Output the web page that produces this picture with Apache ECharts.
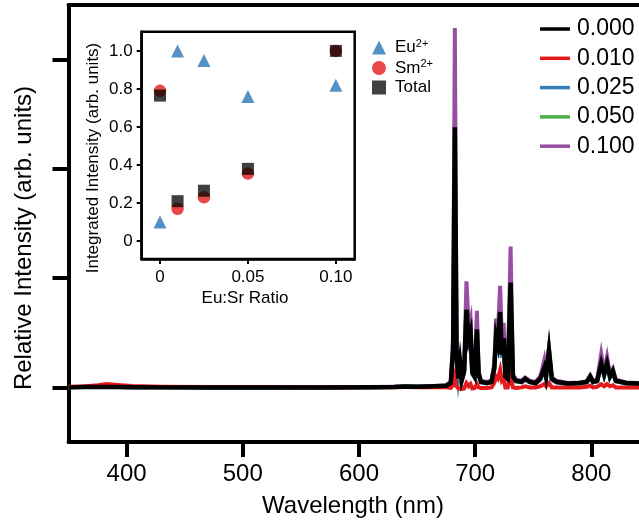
<!DOCTYPE html>
<html>
<head>
<meta charset="utf-8">
<script src="https://cdn.jsdelivr.net/npm/echarts@6/dist/echarts.min.js"></script>
<style>
  html, body { margin: 0; padding: 0; background: #fff; }
  #chart { width: 639px; height: 521px; }
</style>
</head>
<body>
<div id="chart"></div>
<script>
// Emission spectra (relative intensity) for each Eu:Sr ratio, sampled on a shared wavelength grid (nm)
const wavelength = [
  350, 365, 375, 383, 392, 405, 430, 470, 520, 570,
  610, 630, 640, 650, 665, 675, 679, 681, 682.5, 684,
  685.5, 687, 688.5, 690.5, 692.5, 694.5, 696, 697.5, 699.5, 701.5,
  703, 705, 710, 714, 716.5, 718, 719.5, 721.5, 723, 724.5,
  726, 728, 730.5, 732.5, 735, 740, 743, 747, 752, 756,
  757.5, 759.5, 761, 763.5, 766, 770, 780, 790, 796, 799,
  801.5, 805, 808.5, 811, 813.5, 816, 818.5, 821, 830, 840,
  850
];

const ratio000 = [
  0.000, 0.003, 0.004, 0.004, 0.003, 0.002, 0.000, 0.000, 0.000, 0.000,
  0.002, 0.004, 0.008, 0.006, 0.010, 0.015, 0.04, 0.35, 2.38, 0.30,
  0.08, 0.23, 0.07, 0.15, 0.71, 0.45, 0.51, 0.14, 0.10, 0.53,
  0.12, 0.05, 0.04, 0.05, 0.18, 0.47, 0.40, 0.69, 0.30, 0.45,
  0.10, 0.08, 0.96, 0.10, 0.06, 0.05, 0.08, 0.05, 0.04, 0.08,
  0.12, 0.18, 0.10, 0.34, 0.08, 0.05, 0.035, 0.04, 0.05, 0.10,
  0.05, 0.06, 0.22, 0.12, 0.22, 0.10, 0.15, 0.06, 0.04, 0.035,
  0.03
];

const ratio010 = [
  0.005, 0.010, 0.020, 0.030, 0.022, 0.012, 0.006, 0.004, 0.003, 0.002,
  0.002, 0.002, 0.003, 0.002, 0.002, 0.000, -0.005, 0.02, 0.10, 0.01,
  -0.01, 0.00, -0.015, -0.01, 0.04, 0.01, 0.03, -0.01, -0.005, 0.03,
  0.00, -0.005, -0.005, 0.00, 0.04, 0.10, 0.08, 0.16, 0.06, 0.08,
  0.00, 0.00, 0.10, 0.00, -0.005, 0.00, 0.01, 0.00, 0.00, 0.01,
  0.02, 0.03, 0.01, 0.04, 0.00, 0.00, 0.00, 0.00, 0.005, 0.015,
  0.00, 0.005, 0.03, 0.01, 0.03, 0.01, 0.02, 0.00, 0.00, 0.00,
  0.00
];

const ratio025 = [
  0.000, 0.003, 0.004, 0.004, 0.003, 0.002, 0.000, 0.000, 0.000, 0.000,
  0.002, 0.004, 0.007, 0.005, 0.009, 0.013, 0.035, 0.31, 2.10, 0.27,
  0.07, 0.20, 0.06, 0.13, 0.63, 0.40, 0.45, 0.12, 0.09, 0.47,
  0.11, 0.045, 0.035, 0.045, 0.16, 0.42, 0.36, 0.62, 0.27, 0.40,
  0.09, 0.07, 0.86, 0.09, 0.055, 0.045, 0.07, 0.045, 0.035, 0.07,
  0.11, 0.16, 0.09, 0.30, 0.07, 0.045, 0.03, 0.035, 0.045, 0.09,
  0.045, 0.055, 0.20, 0.11, 0.20, 0.09, 0.13, 0.055, 0.035, 0.03,
  0.027
];

const ratio050 = [
  0.000, 0.003, 0.004, 0.004, 0.003, 0.002, 0.000, 0.000, 0.000, 0.000,
  0.002, 0.004, 0.008, 0.006, 0.010, 0.014, 0.038, 0.33, 2.25, 0.28,
  0.075, 0.22, 0.065, 0.14, 0.67, 0.43, 0.48, 0.13, 0.095, 0.50,
  0.11, 0.048, 0.038, 0.048, 0.17, 0.45, 0.38, 0.66, 0.28, 0.43,
  0.095, 0.075, 0.91, 0.095, 0.057, 0.048, 0.075, 0.048, 0.038, 0.075,
  0.11, 0.17, 0.095, 0.32, 0.075, 0.048, 0.033, 0.038, 0.048, 0.095,
  0.048, 0.057, 0.21, 0.11, 0.21, 0.095, 0.14, 0.057, 0.038, 0.033,
  0.028
];

const ratio100 = [
  0.000, 0.008, 0.010, 0.008, 0.006, 0.004, 0.002, 0.001, 0.001, 0.001,
  0.003, 0.005, 0.008, 0.008, 0.012, 0.02, 0.05, 0.45, 3.29, 0.40,
  0.10, 0.26, 0.09, 0.18, 0.97, 0.55, 0.62, 0.18, 0.12, 0.70,
  0.15, 0.06, 0.05, 0.06, 0.22, 0.63, 0.50, 0.93, 0.40, 0.59,
  0.12, 0.10, 1.29, 0.12, 0.07, 0.06, 0.09, 0.06, 0.05, 0.10,
  0.16, 0.25, 0.13, 0.36, 0.09, 0.06, 0.04, 0.045, 0.055, 0.11,
  0.06, 0.07, 0.31, 0.15, 0.28, 0.12, 0.17, 0.07, 0.045, 0.04,
  0.035
];

const spectrumLabels = ['0.000', '0.010', '0.025', '0.050', '0.100'];
const spectrumColors = ['#000000', '#e41a1c', '#377eb8', '#4daf4a', '#984ea3'];
const spectrumValues = [ratio000, ratio010, ratio025, ratio050, ratio100];
const wavelengthTicks = [400, 500, 600, 700, 800];
const intensityTicks = [0, 1, 2, 3];

// Integrated intensities versus Eu:Sr ratio (inset)
const euSrRatio = [0, 0.01, 0.025, 0.05, 0.10];
const euIntegrated = [0.10, 1.00, 0.95, 0.76, 0.82];
const smIntegrated = [0.79, 0.17, 0.23, 0.355, 1.00];
const totalIntegrated = [0.765, 0.21, 0.265, 0.38, 1.00];
const insetXTicks = [0, 0.05, 0.10];
const insetXTickLabels = ['0', '0.05', '0.10'];
const insetYTicks = [0, 0.2, 0.4, 0.6, 0.8, 1.0];
const insetYTickLabels = ['0', '0.2', '0.4', '0.6', '0.8', '1.0'];

const FONT = "'Liberation Sans', Arial, Helvetica, sans-serif";
const chart = echarts.init(document.getElementById('chart'), null, { renderer: 'canvas' });

const pair = (xs, ys) => xs.map((x, i) => [x, ys[i]]);

// draw order: 0.100 at the back, 0.000 on top
const drawOrder = [4, 3, 2, 1, 0];
const spectrumSeries = drawOrder.map(k => ({
  name: spectrumLabels[k],
  type: 'line',
  xAxisIndex: 0,
  yAxisIndex: 0,
  data: pair(wavelength, spectrumValues[k]),
  showSymbol: false,
  symbol: 'none',
  lineStyle: { color: spectrumColors[k], width: k === 0 ? 4.5 : 4, join: 'miter' },
  itemStyle: { color: spectrumColors[k] },
  z: 2 + (4 - k),
  animation: false
}));

const insetRich = {
  b: { fontSize: 17, fontFamily: FONT, color: '#000', lineHeight: 19 },
  s: { fontSize: 11, fontFamily: FONT, color: '#000', verticalAlign: 'top', lineHeight: 19 }
};

const option = {
  backgroundColor: '#fff',
  animation: false,
  textStyle: { fontFamily: FONT },
  grid: [
    {
      // spectrum panel; its right edge runs up to the page edge with no right spine
      left: 68.5, top: 5, width: 570.5, height: 437, show: false
    },
    {
      left: 141.7, top: 31.7, width: 213, height: 227.3,
      show: true, borderColor: '#000', borderWidth: 2.5, backgroundColor: '#fff', z: 10
    }
  ],
  xAxis: [
    {
      gridIndex: 0, type: 'value', min: 350, max: 841, position: 'bottom',
      axisLine: { show: true, onZero: false, lineStyle: { color: '#000', width: 4 } },
      axisTick: { show: true, customValues: wavelengthTicks, length: 15, lineStyle: { color: '#000', width: 4 } },
      axisLabel: { show: true, customValues: wavelengthTicks, margin: 20, fontSize: 24, color: '#000', fontFamily: FONT },
      splitLine: { show: false }
    },
    {
      // top spine only
      gridIndex: 0, type: 'value', min: 350, max: 841, position: 'top',
      axisLine: { show: true, onZero: false, lineStyle: { color: '#000', width: 4 } },
      axisTick: { show: false },
      axisLabel: { show: false },
      splitLine: { show: false }
    },
    {
      gridIndex: 1, type: 'value', min: -0.0104, max: 0.1107, position: 'bottom',
      axisLine: { show: true, onZero: false, lineStyle: { color: '#000', width: 2.5 } },
      axisTick: { show: true, customValues: insetXTicks, length: 5, lineStyle: { color: '#000', width: 2 } },
      axisLabel: {
        show: true, customValues: insetXTicks, margin: 10, fontSize: 17, color: '#000', fontFamily: FONT,
        formatter: v => insetXTickLabels[insetXTicks.findIndex(t => Math.abs(t - v) < 1e-9)]
      },
      splitLine: { show: false },
      z: 11
    }
  ],
  yAxis: [
    {
      gridIndex: 0, type: 'value', min: -0.5, max: 3.5, position: 'left',
      axisLine: { show: true, onZero: false, lineStyle: { color: '#000', width: 4 } },
      axisTick: { show: true, customValues: intensityTicks, length: 16, lineStyle: { color: '#000', width: 4 } },
      axisLabel: { show: false },
      splitLine: { show: false }
    },
    {
      gridIndex: 1, type: 'value', min: -0.094, max: 1.101, position: 'left',
      axisLine: { show: true, onZero: false, lineStyle: { color: '#000', width: 2.5 } },
      axisTick: { show: true, customValues: insetYTicks, length: 5, lineStyle: { color: '#000', width: 2 } },
      axisLabel: {
        show: true, customValues: insetYTicks, margin: 9, fontSize: 17, color: '#000', fontFamily: FONT,
        formatter: v => insetYTickLabels[insetYTicks.findIndex(t => Math.abs(t - v) < 1e-9)]
      },
      splitLine: { show: false },
      z: 11
    }
  ],
  legend: [
    {
      orient: 'vertical', left: 535, top: 12,
      itemWidth: 30, itemHeight: 3.5, itemGap: 5.3,
      icon: 'rect',
      data: spectrumLabels,
      textStyle: { fontSize: 23, fontFamily: FONT, color: '#000', lineHeight: 24, padding: [0, 0, 0, 2] }
    },
    {
      orient: 'vertical', left: 367, top: 33,
      itemWidth: 14, itemHeight: 14, itemGap: 2.5,
      data: ['Eu', 'Sm', 'Total'],
      formatter: name => name === 'Total' ? '{b|Total}' : '{b|' + name + '}{s|2+}',
      textStyle: { rich: insetRich, padding: [0, 0, 0, 4] }
    }
  ],
  graphic: [
    {
      type: 'text', x: 24, y: 238, rotation: Math.PI / 2,
      style: { text: 'Relative Intensity (arb. units)', font: '24px ' + FONT, fill: '#000', align: 'center', verticalAlign: 'middle' }
    },
    {
      type: 'text', x: 353, y: 506,
      style: { text: 'Wavelength (nm)', font: '24px ' + FONT, fill: '#000', align: 'center', verticalAlign: 'middle' }
    },
    {
      type: 'text', x: 93, y: 158, rotation: Math.PI / 2, z: 20,
      style: { text: 'Integrated Intensity (arb. units)', font: '17px ' + FONT, fill: '#000', align: 'center', verticalAlign: 'middle' }
    },
    {
      type: 'text', x: 245, y: 298.5, z: 20,
      style: { text: 'Eu:Sr Ratio', font: '17px ' + FONT, fill: '#000', align: 'center', verticalAlign: 'middle' }
    }
  ],
  series: spectrumSeries.concat([
    {
      name: 'Eu', type: 'scatter', xAxisIndex: 2, yAxisIndex: 1,
      data: pair(euSrRatio, euIntegrated),
      symbol: 'triangle', symbolSize: 13,
      itemStyle: { color: '#377eb8', opacity: 0.85 },
      z: 12
    },
    {
      name: 'Sm', type: 'scatter', xAxisIndex: 2, yAxisIndex: 1,
      data: pair(euSrRatio, smIntegrated),
      symbol: 'circle', symbolSize: 12.5,
      itemStyle: { color: '#e41a1c', opacity: 0.8 },
      z: 13
    },
    {
      name: 'Total', type: 'scatter', xAxisIndex: 2, yAxisIndex: 1,
      data: pair(euSrRatio, totalIntegrated),
      symbol: 'rect', symbolSize: 12,
      itemStyle: { color: '#000000', opacity: 0.75 },
      z: 14
    }
  ])
};

chart.setOption(option);
</script>
</body>
</html>
